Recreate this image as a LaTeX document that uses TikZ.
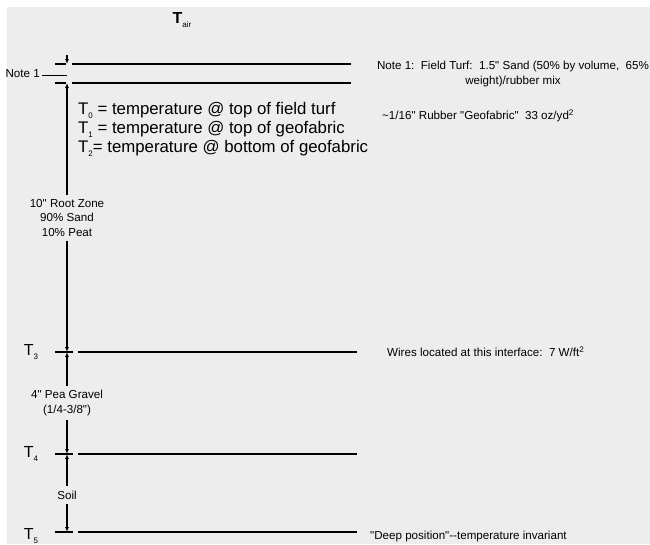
\documentclass[tikz,border=0pt]{standalone}
\usepackage{fontspec}
\setmainfont{Liberation Sans}[Ligatures=TeXOff]
\usetikzlibrary{arrows.meta}

\definecolor{bggray}{HTML}{EDEDED}

\tikzset{
    layer/.style={line width=1.3pt},
    dimline/.style={line width=1.3pt, -{Latex[length=5pt,width=4pt]}},
    smalltxt/.style={font=\fontsize{11.6}{14.5}\selectfont, align=center, inner sep=0pt},
    bigtxt/.style={font=\fontsize{16.8}{19}\selectfont, align=left, inner sep=0pt},
    tlabel/.style={font=\fontsize{16}{18}\selectfont, inner sep=0pt},
}

\newcommand{\Tsub}[1]{T\raisebox{-4pt}{\fontsize{8}{9}\selectfont #1}}

\begin{document}
\begin{tikzpicture}[x=1pt,y=-1pt]

\useasboundingbox (0,0) rectangle (650,544);
\fill[bggray] (7,7) rectangle (650,544);

% Air above the turf
\node[font=\fontsize{16}{18}\selectfont\bfseries, inner sep=0pt] (air) at (182,20)
    {T\raisebox{-4pt}{\fontsize{8}{9}\selectfont\mdseries air}};

% Points on the depth axis
\coordinate (s0) at (67,64);
\coordinate (s1) at (67,83);
\coordinate (s3) at (67,352);
\coordinate (s4) at (67,454);
\coordinate (s5) at (67,532);
\coordinate (s0up) at (67,55);

% Interface lines: short tick on the left, long line on the right
\foreach \y in {64,83} {
    \draw[layer] (55,\y) -- (66,\y);
    \draw[layer] (72,\y) -- (351,\y);
}
\foreach \y in {352,454,532} {
    \draw[layer] (55,\y) -- (73,\y);
    \draw[layer] (78,\y) -- (357,\y);
}

% Note 1 pointer
\node[smalltxt, anchor=base east] (note) at (40,77) {Note 1};
\coordinate (notetip) at (67,75);
\draw[line width=1pt] (note.base east |- notetip) ++(2pt,0) -- (notetip);

% Layer thicknesses
\draw[dimline] (s0up) -- (s0);

\node[smalltxt, inner sep=4pt] (root) at (67,218)
    {10" Root Zone\\90\% Sand\\10\% Peat};
\draw[dimline] (root) -- (s1);
\draw[dimline] (root) -- (s3);

\node[smalltxt, inner sep=4pt] (gravel) at (67,403)
    {4" Pea Gravel\\(1/4-3/8")};
\draw[dimline] (gravel) -- (s3);
\draw[dimline] (gravel) -- (s4);

\node[smalltxt, inner sep=5pt] (soil) at (67,495) {Soil};
\draw[dimline] (soil) -- (s4);
\draw[dimline] (soil) -- (s5);

% Temperature labels
\node[tlabel] (t3) at (31,352) {\Tsub{3}};
\node[tlabel] (t4) at (31,454) {\Tsub{4}};
\node[tlabel] (t5) at (31,536) {\Tsub{5}};

\node[bigtxt, anchor=base west] (defs) at (78,152)
    {\Tsub{0} = temperature @ top of field turf\\
     \Tsub{1} = temperature @ top of geofabric\\
     \Tsub{2}= temperature @ bottom of geofabric};

% Notes on the right
\node[smalltxt] (turf) at (513,74)
    {Note 1:\ \ Field Turf:\ \ 1.5" Sand (50\% by volume,\ \ 65\%\\weight)/rubber mix};
\node[smalltxt, anchor=west] (geo) at (382,116)
    {\textasciitilde 1/16" Rubber "Geofabric"\ \ 33 oz/yd\textsuperscript{2}};
\node[smalltxt, anchor=west] (wires) at (387,352)
    {Wires located at this interface:\ \ 7 W/ft\textsuperscript{2}};
\node[smalltxt, anchor=west] (deep) at (370,536)
    {"Deep position"--temperature invariant};

\end{tikzpicture}
\end{document}
